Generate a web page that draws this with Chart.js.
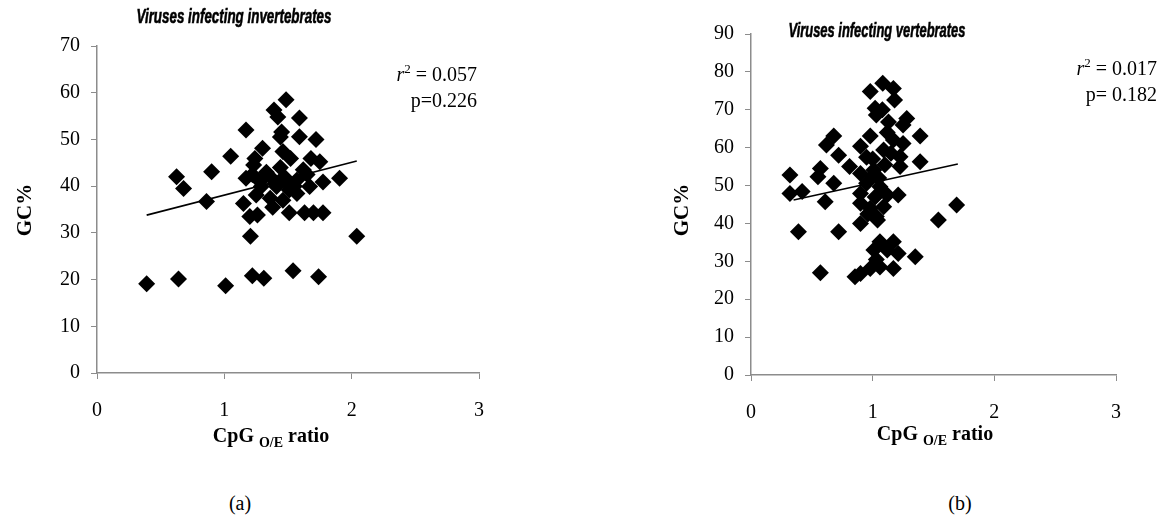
<!DOCTYPE html>
<html>
<head>
<meta charset="utf-8">
<script src="https://cdn.jsdelivr.net/npm/chart.js@4/dist/chart.umd.min.js"></script>
<style>
  body { margin: 0; background: #fff; }
  #wrap { position: relative; width: 1160px; height: 524px; }
  canvas { position: absolute; top: 0; }
  .cap { position: absolute; top: 492px; width: 40px; margin-left: -20px; text-align: center;
         font: 20px "Liberation Serif", "Times New Roman", serif; }
</style>
</head>
<body>
<div id="wrap">
  <canvas id="chartA" width="580" height="460" style="left:0"></canvas>
  <canvas id="chartB" width="580" height="460" style="left:580px"></canvas>
  <div class="cap" style="left:240px">(a)</div>
  <div class="cap" style="left:960px">(b)</div>
</div>
<script>
"use strict";

// invertebrate viruses: CpG o/e ratio vs GC%
const invCpG = [1.485, 1.39, 1.42, 1.59, 1.17, 1.45, 1.44, 1.59, 1.72, 1.30,
  1.05, 1.24, 1.46, 1.52, 1.68, 1.75, 0.90, 1.23, 0.625, 0.68,
  0.86, 1.17, 1.905, 1.775, 1.67, 1.36, 1.47, 1.57, 1.41, 1.51,
  1.29, 1.36, 1.46, 1.57, 1.25, 1.15, 1.20, 1.26, 1.51, 1.63,
  1.70, 1.775, 1.205, 2.04, 0.39, 0.64, 1.01, 1.22, 1.31, 1.54,
  1.74, 1.33, 1.40, 1.55, 1.62, 1.28, 1.44, 1.65, 1.38, 1.49, 1.22];
const invGC = [58.5, 56.3, 54.8, 54.6, 52.0, 51.6, 50.5, 50.6, 50.0, 48.1,
  46.4, 45.9, 47.4, 45.9, 45.9, 45.2, 43.1, 44.5, 42.0, 39.5,
  36.7, 41.7, 41.7, 40.9, 39.9, 42.0, 42.0, 41.3, 39.9, 39.2,
  39.9, 37.4, 37.0, 38.4, 38.1, 36.3, 33.5, 33.8, 34.3, 34.3,
  34.3, 34.3, 29.3, 29.3, 19.1, 20.1, 18.7, 20.8, 20.3, 21.9,
  20.6, 43.0, 40.5, 40.0, 43.5, 41.0, 44.0, 42.5, 35.5, 40.8, 42.5];
const invTrendX = [0.39, 2.04];
const invTrendY = [33.8, 45.4];

// vertebrate viruses
const vertCpG = [1.083, 0.98, 1.17, 1.18, 1.02, 1.03, 1.28, 1.13, 1.25, 0.68,
  1.39, 0.98, 0.62, 0.90, 1.17, 1.25, 1.09, 0.72, 1.225, 1.39,
  1.225, 0.57, 0.81, 0.90, 1.01, 0.32, 0.55, 0.68, 0.95, 1.06,
  0.32, 0.42, 0.61, 0.90, 1.02, 1.21, 0.90, 0.98, 1.09, 1.03,
  0.90, 1.04, 1.69, 1.54, 0.39, 0.72, 1.06, 1.17, 1.01, 1.12,
  1.21, 1.35, 0.57, 0.90, 0.855, 0.98, 1.06, 1.17, 1.03,
  1.00, 1.05, 1.10, 0.95, 1.12, 1.08, 1.00, 1.12, 0.96, 1.15];
const vertGC = [77.0, 74.8, 75.6, 72.6, 70.4, 68.6, 67.7, 66.8, 66.0, 63.1,
  63.1, 63.1, 60.7, 60.4, 62.0, 61.1, 59.4, 58.0, 57.6, 56.3,
  55.0, 54.5, 55.0, 53.2, 54.1, 52.8, 52.3, 50.6, 50.6, 49.7,
  47.9, 48.4, 45.7, 47.9, 47.0, 47.5, 45.3, 44.0, 44.4, 41.8,
  40.0, 40.9, 44.9, 40.9, 37.8, 37.8, 35.2, 35.2, 33.0, 33.0,
  32.1, 31.2, 27.0, 26.8, 25.9, 28.1, 28.5, 28.1, 30.5,
  57.0, 52.0, 55.5, 57.5, 64.0, 70.0, 52.5, 47.5, 42.5, 58.5];
const vertTrendX = [0.35, 1.70];
const vertTrendY = [46.2, 55.7];

const xTicks = [0, 1, 2, 3];
const axisGrey = "#8c8c8c";
const serif = '"Liberation Serif", "Times New Roman", serif';

function pairs(xs, ys) {
  return xs.map((x, i) => ({ x: x, y: ys[i] }));
}

// titles, axis labels and the r²/p notes are painted by hand
const labelsPlugin = {
  id: "panelText",
  afterDraw(chart) {
    const t = chart.options.plugins.panelText;
    const ctx = chart.ctx;
    ctx.save();
    ctx.fillStyle = "#000";
    ctx.textBaseline = "middle";

    // italic sans title, fitted to its width (narrow face when available)
    ctx.font = 'italic bold 20px "Liberation Sans Narrow", "Liberation Sans", sans-serif';
    const w = ctx.measureText(t.title).width;
    ctx.save();
    ctx.translate(t.titleX, t.titleY);
    ctx.scale(t.titleW / w, 1);
    ctx.textAlign = "center";
    ctx.lineWidth = 0.6;
    ctx.strokeStyle = "#000";
    ctx.fillText(t.title, 0, 0);
    ctx.strokeText(t.title, 0, 0);
    ctx.restore();

    // y title
    ctx.save();
    ctx.translate(t.yLabX, t.yLabY);
    ctx.rotate(-Math.PI / 2);
    ctx.textAlign = "center";
    ctx.font = "bold 21px " + serif;
    ctx.fillText("GC%", 0, 0);
    ctx.restore();

    // x title with subscript
    ctx.textAlign = "left";
    const big = "bold 20px " + serif, small = "bold 14px " + serif;
    ctx.font = big;
    const a = ctx.measureText("CpG ").width, c = ctx.measureText(" ratio").width;
    ctx.font = small;
    const b = ctx.measureText("O/E").width;
    const x = t.xLabX - (a + b + c) / 2;
    ctx.font = big;
    ctx.fillText("CpG ", x, t.xLabY);
    ctx.font = small;
    ctx.fillText("O/E", x + a, t.xLabY + 6);
    ctx.font = big;
    ctx.fillText(" ratio", x + a + b, t.xLabY);

    // r² and p, right aligned
    ctx.textAlign = "right";
    ctx.font = "20px " + serif;
    const rest = " = " + t.r2;
    const rw = ctx.measureText(rest).width;
    ctx.fillText(rest, t.noteX, t.noteY);
    ctx.font = "13px " + serif;
    const sw = ctx.measureText("2").width;
    ctx.fillText("2", t.noteX - rw, t.noteY - 6);
    ctx.font = "italic 20px " + serif;
    ctx.fillText("r", t.noteX - rw - sw, t.noteY);
    ctx.font = "20px " + serif;
    ctx.fillText(t.p, t.noteX, t.noteY + 26);
    ctx.restore();
  }
};

function makeChart(id, xs, ys, tx, ty, yMax, box, text) {
  return new Chart(document.getElementById(id), {
    type: "scatter",
    data: {
      datasets: [{
        data: pairs(xs, ys),
        pointStyle: "rectRot",
        pointRadius: 8.5,
        pointHoverRadius: 8.5,
        backgroundColor: "#000",
        borderColor: "#000",
        borderWidth: 0
      }, {
        data: pairs(tx, ty),
        showLine: true,
        pointRadius: 0,
        borderColor: "#000",
        borderWidth: 1.6
      }]
    },
    options: {
      responsive: false,
      animation: false,
      layout: { padding: { left: 0, top: box.top, right: box.right, bottom: 0 } },
      plugins: { legend: { display: false }, tooltip: { enabled: false }, panelText: text },
      scales: {
        x: {
          type: "linear", min: 0, max: 3,
          afterBuildTicks: s => { s.ticks = xTicks.map(v => ({ value: v })); },
          afterFit: s => { s.height = box.xh; },
          grid: { drawOnChartArea: false, tickLength: 6, color: axisGrey },
          border: { color: axisGrey, width: 1.5 },
          ticks: { padding: 20, color: "#000", font: { family: serif, size: 20 } }
        },
        y: {
          min: 0, max: yMax,
          ticks: { stepSize: 10, padding: 11, color: "#000", font: { family: serif, size: 20 } },
          afterFit: s => { s.width = box.yw; },
          grid: { drawOnChartArea: false, tickLength: 6, color: axisGrey },
          border: { color: axisGrey, width: 1.5 }
        }
      }
    },
    plugins: [labelsPlugin]
  });
}

makeChart("chartA", invCpG, invGC, invTrendX, invTrendY, 70,
  { top: 46, right: 101, xh: 87, yw: 97 },
  { title: "Viruses infecting invertebrates", titleX: 234, titleY: 17, titleW: 195,
    yLabX: 26, yLabY: 210, xLabX: 271, xLabY: 437, noteX: 477, noteY: 76,
    r2: "0.057", p: "p=0.226" });

makeChart("chartB", vertCpG, vertGC, vertTrendX, vertTrendY, 90,
  { top: 34, right: 44, xh: 85, yw: 171 },
  { title: "Viruses infecting vertebrates", titleX: 297, titleY: 31, titleW: 177,
    yLabX: 103, yLabY: 210, xLabX: 355, xLabY: 435, noteX: 577, noteY: 70,
    r2: "0.017", p: "p= 0.182" });
</script>
</body>
</html>
